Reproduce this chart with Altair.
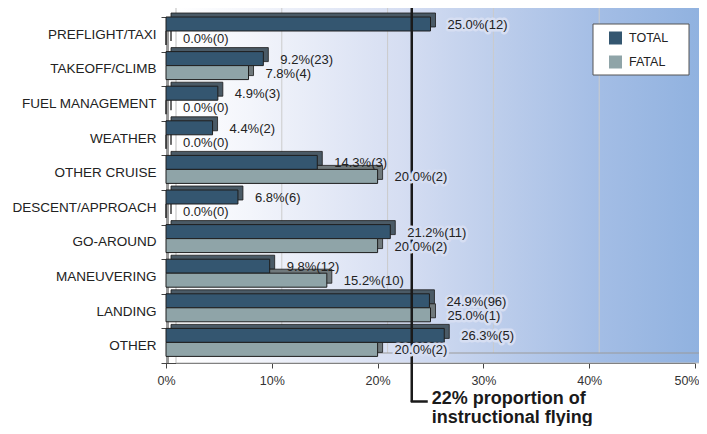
import altair as alt
import pandas as pd

categories = ["PREFLIGHT/TAXI", "TAKEOFF/CLIMB", "FUEL MANAGEMENT", "WEATHER", "OTHER CRUISE",
              "DESCENT/APPROACH", "GO-AROUND", "MANEUVERING", "LANDING", "OTHER"]
series = ["TOTAL", "FATAL"]
total_pct = [25.0, 9.2, 4.9, 4.4, 14.3, 6.8, 21.2, 9.8, 24.9, 26.3]
total_n = [12, 23, 3, 2, 3, 6, 11, 12, 96, 5]
fatal_pct = [0.0, 7.8, 0.0, 0.0, 20.0, 0.0, 20.0, 15.2, 25.0, 20.0]
fatal_n = [0, 4, 0, 0, 2, 0, 2, 10, 1, 2]
x_ticks = [0, 10, 20, 30, 40, 50]
grid_ticks = [10, 20, 30, 40]
reference_pct = 22
reference_text = "22% proportion of\ninstructional flying"

rows = []
for c, tp, tn, fp, fn in zip(categories, total_pct, total_n, fatal_pct, fatal_n):
    rows.append(dict(category=c, series="TOTAL", pct=tp, label=f"{tp:.1f}%({tn})"))
    rows.append(dict(category=c, series="FATAL", pct=fp, label=f"{fp:.1f}%({fn})"))
df = pd.DataFrame(rows)
one = pd.DataFrame({"k": [0]})
grid_df = pd.DataFrame({"t": grid_ticks})

W, H = 529, 346
D = 10
FONT = "Liberation Sans"
bar_colors = ["#345670", "#8fa4a8"]
depth_total, depth_fatal = "#4a5a66", "#70797c"

x_scale = alt.Scale(domain=[0, 50], nice=False, zero=True)
x_enc = alt.X("pct:Q", scale=x_scale,
              axis=alt.Axis(values=x_ticks, labelExpr="datum.value + '%'", grid=False, title=None,
                            domainColor="#444", tickColor="#444", tickSize=5, labelFontSize=12.5,
                            labelColor="#333", labelPadding=6, labelFont=FONT, labelFlush=False,
                            labelAlign=alt.ExprRef(expr="datum.value >= 50 ? 'right' : 'center'"),
                            labelOffset=alt.ExprRef(expr="datum.value >= 50 ? 4 : 0")))
y_enc = alt.Y("category:N", sort=categories, scale=alt.Scale(paddingInner=0, paddingOuter=0),
              axis=alt.Axis(title=None, tickBand="extent", tickSize=5, tickColor="#444",
                            domainColor="#333", labelFontSize=13.5, labelColor="#222",
                            labelPadding=5, labelFont=FONT))
yo_enc = alt.YOffset("series:N", sort=series,
                     scale=alt.Scale(type="band", paddingInner=0, paddingOuter=0.236, align=0))
yo_depth = alt.YOffset("series:N", sort=series,
                       scale=alt.Scale(type="band", paddingInner=0, paddingOuter=0.236, align=0,
                                       range=[-4, H / len(categories) - 4]))

grad = alt.LinearGradient(
    gradient="linear", x1=0, x2=1, y1=0, y2=0,
    stops=[alt.GradientStop(offset=0, color="#ffffff"),
           alt.GradientStop(offset=0.14, color="#f3f5fb"),
           alt.GradientStop(offset=0.42, color="#d6def2"),
           alt.GradientStop(offset=0.61, color="#bccdeb"),
           alt.GradientStop(offset=0.8, color="#a3bde5"),
           alt.GradientStop(offset=1, color="#8fb1df")])

wall = alt.Chart(one).mark_rect(color=grad, stroke="#bdbdbd", strokeWidth=1).encode(
    x=alt.value(D), x2=alt.value(W + D + 2), y=alt.value(-D), y2=alt.value(H))
left_strip = alt.Chart(one).mark_rect(color="#9a9a9a").encode(
    x=alt.value(0), x2=alt.value(3), y=alt.value(0), y2=alt.value(H))
floor_line = alt.Chart(one).mark_rule(color="#9a9a9a", strokeWidth=1).encode(
    x=alt.value(D), x2=alt.value(W + D + 2), y=alt.value(H - D))
grid = alt.Chart(grid_df).mark_rule(color="#cbcbcb", strokeWidth=1, xOffset=D).encode(
    x=alt.X("t:Q", scale=x_scale), y=alt.value(-D), y2=alt.value(H - D))

depth = alt.Chart(df).mark_bar(xOffset=5, x2Offset=5, stroke="#1a1a1a", strokeWidth=0.8).encode(
    x=x_enc, y=y_enc, yOffset=yo_depth,
    fill=alt.when(alt.datum.series == "TOTAL").then(alt.value(depth_total)).otherwise(alt.value(depth_fatal)))

bars = alt.Chart(df).mark_bar(stroke="#1e1e1e", strokeWidth=1).encode(
    x=x_enc, y=y_enc, yOffset=yo_enc,
    color=alt.Color("series:N", scale=alt.Scale(domain=series, range=bar_colors),
                    legend=alt.Legend(title=None, orient="none", legendX=443, legendY=14.5,
                                      symbolType="square", symbolSize=169, symbolStrokeWidth=0,
                                      labelFontSize=12.5, labelOffset=7, rowPadding=11, padding=0,
                                      labelColor="#222", labelFont=FONT, zindex=2)))

ref_line = alt.Chart(one).mark_rule(color="#1a1a1a", strokeWidth=2.5, xOffset=13).encode(
    x=alt.datum(reference_pct), y=alt.value(-17), y2=alt.value(385))
ref_tail = alt.Chart(one).mark_rule(color="#1a1a1a", strokeWidth=2.5, xOffset=12, x2Offset=29).encode(
    x=alt.datum(reference_pct), x2=alt.datum(reference_pct), y=alt.value(384.5))
ref_text = alt.Chart(one).mark_text(align="left", baseline="alphabetic", fontSize=18, fontWeight="bold",
                                    font=FONT, lineBreak="\n", lineHeight=18.5, dx=33, color="#1a1a1a").encode(
    x=alt.datum(reference_pct), y=alt.value(387), text=alt.value(reference_text))

halo = alt.Chart(df).mark_text(align="left", baseline="middle", dx=17, dy=1, fontSize=13, font=FONT,
                               stroke="#d6def2", strokeWidth=5, strokeJoin="round", color="#d6def2").encode(
    x=alt.X("pct:Q", scale=x_scale), y=y_enc, yOffset=yo_enc, text="label:N",
    opacity=alt.when(alt.datum.pct >= 16).then(alt.value(1)).otherwise(alt.value(0)))
labels = alt.Chart(df).mark_text(align="left", baseline="middle", dx=17, dy=1, fontSize=13, font=FONT,
                                 color="#222").encode(
    x=alt.X("pct:Q", scale=x_scale), y=y_enc, yOffset=yo_enc, text="label:N")

legend_box = alt.Chart(one).mark_rect(fill="white", stroke="#555", strokeWidth=1).encode(
    x=alt.value(427), x2=alt.value(523), y=alt.value(7), y2=alt.value(58))

chart = alt.layer(wall, left_strip, grid, floor_line, depth, bars, ref_line, ref_tail,
                  halo, labels, ref_text, legend_box).resolve_scale(yOffset="independent").properties(
    width=W, height=H,
    padding={"left": 158, "top": 9, "right": 4, "bottom": 63},
    autosize=alt.AutoSizeParams(type="none"),
).configure_view(stroke=None).configure(background="white")

chart.save("out.html", embed_options={"renderer": "svg", "actions": False})
